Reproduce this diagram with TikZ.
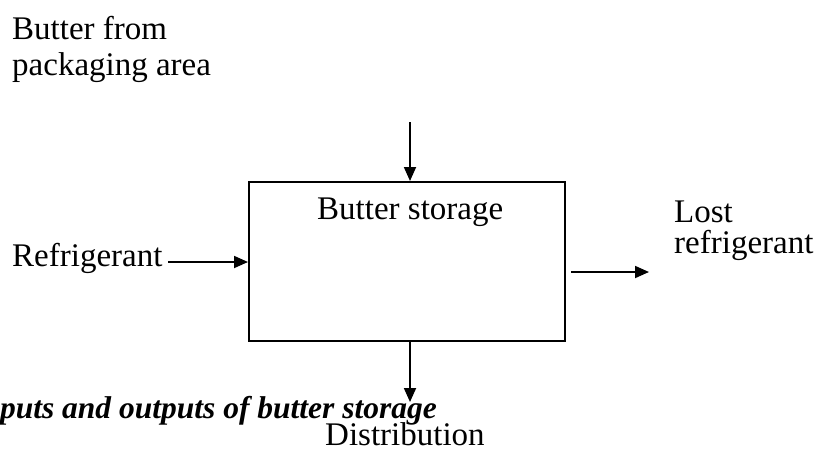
\documentclass[tikz,border=0pt]{standalone}
\usepackage{fontspec}
\setmainfont{Liberation Serif}
\usetikzlibrary{arrows.meta}
\begin{document}
\begin{tikzpicture}[x=1pt,y=-1pt,
  lbl/.style={inner sep=0pt, anchor=base west, font=\fontsize{33}{36}\selectfont},
  flow/.style={line width=1.8pt, -{Triangle[length=14pt,width=12pt]}},
  storebox/.style={draw, line width=2pt, minimum width=316pt, minimum height=159pt, inner sep=0pt}]
  \useasboundingbox (0,0) rectangle (819,448);

  % process box
  \node[storebox] (box) at (407,261.5) {};
  \node[lbl] (title) at (317,219) {Butter storage};

  % input and output labels
  \node[lbl] (src1) at (12,39) {Butter from};
  \node[lbl] (src2) at (12,75) {packaging area};
  \node[lbl] (refr) at (12,266) {Refrigerant};
  \node[lbl] (lost1) at (674,222) {Lost};
  \node[lbl] (lost2) at (674,253) {refrigerant};
  \node[lbl] (dist) at (325,445) {Distribution};

  % figure caption
  \node[inner sep=0pt, anchor=base east, font=\fontsize{31.5}{34}\selectfont\bfseries\itshape]
    (cap) at (437,418) {puts and outputs of butter storage};

  % flows
  \coordinate (inTop) at (410,122);
  \coordinate (inLeft) at (168,262);
  \coordinate (outRight) at (649,272);
  \coordinate (outBottom) at (410,402);
  \draw[flow] (inTop) -- (inTop |- box.north);
  \draw[flow] (inLeft) -- (inLeft -| box.west);
  \draw[flow] (outRight -| box.east) ++(5,0) -- (outRight);
  \draw[flow] (outBottom |- box.south) -- (outBottom);
\end{tikzpicture}
\end{document}
